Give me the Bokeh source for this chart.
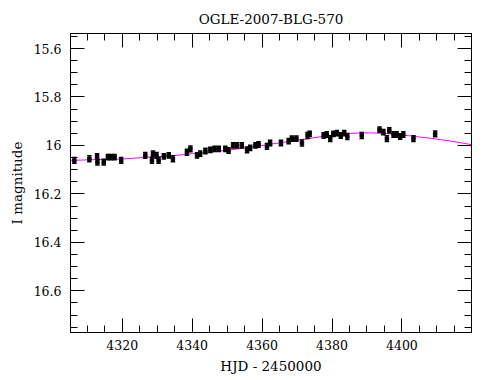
from bokeh.plotting import figure
from bokeh.models import (Range1d, LinearAxis, SingleIntervalTicker,
                          CustomJSTickFormatter, ColumnDataSource)
from bokeh.embed import file_html
from bokeh.resources import INLINE

# ---- data ----
hjd = [4306.3, 4310.6, 4312.8, 4312.9, 4314.7, 4315.9, 4316.8, 4317.8, 4319.7,
       4326.6, 4328.5, 4328.8, 4329.8, 4330.4, 4331.9, 4333.3, 4334.5, 4338.5,
       4339.5, 4341.4, 4342.3, 4343.8, 4345.2, 4346.4, 4347.6, 4349.5, 4350.4,
       4351.7, 4352.8, 4354.2, 4355.7, 4356.6, 4358.1, 4359.0, 4361.4, 4362.3,
       4365.4, 4367.6, 4368.5, 4369.8, 4371.4, 4373.0, 4373.6, 4377.6, 4378.5,
       4379.5, 4380.4, 4381.4, 4382.5, 4383.5, 4384.4, 4388.5, 4393.6, 4394.7,
       4395.7, 4396.4, 4397.6, 4398.5, 4399.5, 4400.4, 4403.3, 4409.5]
mag = [16.062, 16.055, 16.045, 16.069, 16.069, 16.048, 16.048, 16.048, 16.062,
       16.041, 16.062, 16.034, 16.041, 16.062, 16.045, 16.041, 16.055, 16.028,
       16.014, 16.041, 16.034, 16.023, 16.018, 16.014, 16.014, 16.014, 16.021,
       16.000, 16.000, 16.000, 16.018, 16.010, 16.000, 15.996, 16.004, 15.990,
       15.990, 15.982, 15.972, 15.972, 15.990, 15.959, 15.952, 15.959, 15.955,
       15.972, 15.952, 15.949, 15.959, 15.949, 15.963, 15.959, 15.935, 15.945,
       15.972, 15.938, 15.955, 15.955, 15.963, 15.955, 15.972, 15.952]
err = [0.012, 0.012, 0.011, 0.012, 0.012, 0.011, 0.011, 0.011, 0.012,
       0.012, 0.012, 0.011, 0.012, 0.012, 0.011, 0.011, 0.012, 0.012,
       0.012, 0.011, 0.011, 0.011, 0.011, 0.011, 0.011, 0.011, 0.011,
       0.011, 0.011, 0.011, 0.012, 0.011, 0.011, 0.011, 0.012, 0.011,
       0.011, 0.011, 0.011, 0.011, 0.012, 0.012, 0.011, 0.011, 0.011,
       0.012, 0.011, 0.011, 0.011, 0.011, 0.012, 0.012, 0.011, 0.011,
       0.012, 0.011, 0.011, 0.011, 0.011, 0.011, 0.012, 0.012]

model_hjd = [4305, 4311, 4317, 4322, 4328, 4334, 4340, 4345, 4351, 4357, 4362,
             4368, 4374, 4380, 4385, 4391, 4397, 4402, 4408, 4414, 4420]
model_mag = [16.062, 16.059, 16.058, 16.054, 16.048, 16.043, 16.034, 16.028,
             16.018, 16.007, 15.996, 15.983, 15.970, 15.957, 15.950, 15.948,
             15.952, 15.960, 15.970, 15.982, 15.997]

title = "OGLE-2007-BLG-570"
xlabel = "HJD - 2450000"
ylabel = "I magnitude"

FONT = "DejaVu Serif"

src = ColumnDataSource(dict(
    x=hjd, y=mag,
    lo=[m - e for m, e in zip(mag, err)],
    hi=[m + e for m, e in zip(mag, err)],
))

p = figure(frame_width=401, frame_height=299, output_backend="svg",
           toolbar_location=None,
           x_range=Range1d(4305.2, 4419.9), y_range=Range1d(16.772, 15.538),
           min_border_left=70, min_border_right=9, min_border_top=33,
           min_border_bottom=38, x_axis_location=None, y_axis_location=None,
           background_fill_color="white", border_fill_color="white")
p.grid.visible = False
p.outline_line_color = "black"
p.outline_line_width = 1

p.title.text = title
p.title.align = "center"
p.title.text_font = FONT
p.title.text_font_style = "normal"
p.title.text_font_size = "13.5px"
p.title.text_color = "black"
p.title.standoff = 13
p.title.offset = 0

yfmt = CustomJSTickFormatter(code="return Number(tick.toFixed(2)).toString();")


def make_axis(ticker, show_labels, fmt=None):
    ax = LinearAxis(ticker=ticker)
    if fmt is not None:
        ax.formatter = fmt
    ax.major_tick_in = 14
    ax.major_tick_out = 0
    ax.minor_tick_in = 7
    ax.minor_tick_out = 0
    ax.axis_line_color = "black"
    ax.major_tick_line_color = "black"
    ax.minor_tick_line_color = "black"
    ax.major_label_text_font = FONT
    ax.major_label_text_color = "black"
    ax.axis_label_text_font = FONT
    ax.axis_label_text_font_style = "normal"
    ax.axis_label_text_color = "black"
    ax.axis_label_text_font_size = "13.5px"
    if show_labels:
        ax.major_label_text_font_size = "12.5px"
        ax.major_label_standoff = 7
        ax.axis_label_standoff = 5
    else:
        ax.major_label_text_font_size = "0px"
        ax.major_label_standoff = 0
        ax.major_label_text_alpha = 0
    return ax


bottom = make_axis(SingleIntervalTicker(interval=20, num_minor_ticks=4), True)
bottom.axis_label = xlabel
top = make_axis(SingleIntervalTicker(interval=20, num_minor_ticks=4), False)
left = make_axis(SingleIntervalTicker(interval=0.2, num_minor_ticks=4), True, yfmt)
left.axis_label = ylabel
left.major_label_standoff = 9
left.axis_label_standoff = 6
right = make_axis(SingleIntervalTicker(interval=0.2, num_minor_ticks=4), False, yfmt)

p.add_layout(bottom, "below")
p.add_layout(top, "above")
p.add_layout(left, "left")
p.add_layout(right, "right")

# model curve
p.line(model_hjd, model_mag, line_color="#ff00ff", line_width=1)

# data with error bars
p.segment(x0="x", y0="lo", x1="x", y1="hi", source=src, line_color="black",
          line_width=1.5)
p.scatter(x="x", y="lo", source=src, marker="dash", size=4.5, line_color="black",
          line_width=1.5)
p.scatter(x="x", y="hi", source=src, marker="dash", size=4.5, line_color="black",
          line_width=1.5)
p.scatter(x="x", y="y", source=src, marker="square", size=3.5, fill_color="black",
          line_color="black")

open("out.html", "w").write(file_html(p, INLINE))
